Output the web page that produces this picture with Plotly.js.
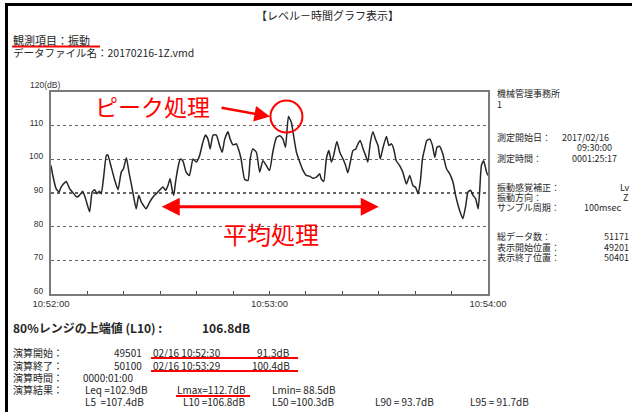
<!DOCTYPE html>
<html><head><meta charset="utf-8">
<script src="https://cdn.plot.ly/plotly-3.0.1.min.js"></script>
<style>
html,body{margin:0;padding:0;background:#fff;}
#wrap{position:relative;width:632px;height:412px;overflow:hidden;background:#fff;}
#chart{position:absolute;left:0;top:0;width:632px;height:412px;}
.bt{position:absolute;left:5px;top:3px;right:0;height:3px;background:#000;}
.bl{position:absolute;left:5px;top:3px;bottom:0;width:3px;background:#000;}
</style></head>
<body><div id="wrap"><div id="chart"></div><div class="bt"></div><div class="bl"></div></div>
<script>
// ---- data ----
const startTime = '2017-02-16T10:52:00Z';
const endSeconds = 120;
const seconds = [0,0.5,1.4,2.2,2.8,3.7,4.2,5.1,6.0,7.1,
7.8,8.7,9.5,10.6,11.3,12.0,12.6,13.3,13.8,14.4,
15.2,15.6,16.3,17.4,18.4,19.3,19.9,20.7,21.4,22.3,
23.4,24.1,24.8,25.4,26.1,27.1,28.0,28.9,29.8,30.7,
31.5,32.1,32.7,33.3,33.7,34.2,34.8,35.5,36.2,37.1,
38.0,39.0,39.9,40.8,41.7,42.4,43.1,43.7,44.5,45.4,
46.3,47.0,47.7,48.6,49.2,50.0,50.9,51.6,52.2,53.2,
54.1,54.7,55.4,56.4,57.3,58.2,59.1,60.0,60.9,61.9,
62.8,63.7,64.4,65.2,66.0,66.4,67.4,68.3,69.2,70.1,
71.0,71.9,72.9,73.8,74.2,74.9,75.6,76.3,77.0,77.6,
78.5,79.3,80.2,80.9,81.5,82.2,82.9,83.7,84.3,84.9,
85.7,86.4,87.0,87.7,88.4,89.1,89.8,90.4,91.2,92.1,
92.8,93.5,94.1,94.8,95.7,96.6,97.6,98.5,99.4,100.1,
100.8,101.4,102.0,102.6,103.2,104.0,104.7,105.4,106.0,106.7,
107.6,108.6,109.5,110.4,111.1,111.8,112.4,113.1,113.9,114.5,
115.2,115.9,116.6,117.3,117.7,118.2,118.8,119.6,120.0];
const levels = [98.2,95.2,91.3,90.3,91.8,93.0,93.4,91.3,90.1,88.8,
89.3,90.5,88.3,84.4,90.3,91.0,89.8,90.5,89.8,94.2,
101.1,101.3,98.7,94.2,91.0,96.2,97.2,100.5,96.2,91.3,
85.3,89.3,87.3,86.3,85.3,87.3,88.8,89.8,90.8,91.8,
90.8,92.2,94.2,90.8,89.3,93.2,97.2,100.1,99.6,96.2,
95.2,100.1,99.2,101.1,105.1,107.2,106.0,103.1,107.2,107.2,
104.1,102.1,106.0,108.2,106.0,104.3,104.6,102.6,100.1,94.0,
93.7,100.1,103.1,102.1,96.2,99.6,98.2,96.7,102.1,106.5,
107.0,106.0,103.6,112.7,111.0,108.5,102.1,99.2,96.7,95.2,
95.0,94.4,94.7,95.7,94.2,93.4,100.1,102.6,99.2,101.1,
105.3,102.1,100.1,98.2,96.0,99.2,102.6,103.1,104.6,105.6,
103.1,101.1,99.2,105.1,108.2,106.0,104.1,100.1,103.6,106.8,
104.1,104.6,103.1,99.6,98.2,96.2,92.7,95.2,92.2,91.7,
89.8,93.2,100.1,103.1,105.6,106.0,104.3,100.6,103.6,103.9,
101.6,97.2,95.7,93.2,89.3,86.3,84.2,82.4,86.3,90.3,
90.8,89.3,88.3,85.3,90.3,98.2,99.6,96.2,95.2];
const yTickValues = [60,70,80,90,100,110,120];
const yTickLabels = ['60','70','80','90','100','110','120(dB)'];
const avgStartSec = 30, avgEndSec = 90, avgArrowLevel = 85.9;

// ---- helpers ----
const base = new Date(startTime).getTime();
const toDate = s => new Date(base + s * 1000).toISOString().replace('T', ' ').replace('Z', '');
const L = 51, R = 488, T = 92, B = 294, W = R - L, H = B - T;
const px = x => (x - L) / W, py = y => (B - y) / H;
const JP = '"Noto Sans CJK JP", "Noto Sans", sans-serif';
const TXT = '#262626', RED = '#ff0000';

function txt(text, x, y, o) {
  o = o || {};
  return {xref: 'paper', yref: 'paper', x: px(x), y: py(y), text: text, showarrow: false,
    xanchor: o.anchor || 'left', yanchor: 'middle', borderpad: 0,
    font: {family: o.family || JP, size: o.size || 10.5, color: o.color || TXT, weight: o.weight || 'normal'}};
}
function uline(x0, x1, y) {
  return {type: 'line', xref: 'paper', yref: 'paper', x0: px(x0), x1: px(x1), y0: py(y), y1: py(y),
    line: {color: RED, width: 2}};
}
const nb = s => s.replace(/ /g, '\u00A0');

// peak
let pk = 0;
levels.forEach((v, i) => { if (v > levels[pk]) pk = i; });

const RP = 9;
const BP = 10;
const annotations = [
  txt('【レベル－時間グラフ表示】', 327, 15, {anchor: 'center', size: 11}),
  txt('観測項目：振動', 12, 40, {size: 11}),
  txt('データファイル名：20170216-1Z.vmd', 12, 52, {size: 10.5}),
  txt(yTickLabels[yTickLabels.length - 1], 29, 85, {family: 'Liberation Sans, Arial', size: 8.5, color: '#333'}),
  // right panel
  txt('機械管理事務所', 496, 93, {size: RP}),
  txt('1', 496, 104, {size: RP}),
  txt('測定開始日：', 496, 137, {size: RP}),
  txt('2017/02/16', 561, 137, {size: RP}),
  txt('09:30:00', 576, 147, {size: RP}),
  txt('測定時間：', 496, 158, {size: RP}),
  txt('0001:25:17', 571, 158, {size: RP}),
  txt('振動感覚補正：', 496, 187, {size: RP}),
  txt('Lv', 619, 187, {size: RP}),
  txt('振動方向：', 496, 197, {size: RP}),
  txt('Z', 622, 197, {size: RP}),
  txt('サンプル周期：', 496, 207, {size: RP}),
  txt('100msec', 583, 207, {size: RP}),
  txt('総データ数：', 496, 236, {size: RP}),
  txt('51171', 603, 236, {size: RP}),
  txt('表示開始位置：', 496, 247, {size: RP}),
  txt('49201', 603, 247, {size: RP}),
  txt('表示終了位置：', 496, 257, {size: RP}),
  txt('50401', 603, 257, {size: RP}),
  // bottom block
  txt(nb('80%レンジの上端値 (L10) :'), 12, 327, {size: 12, weight: 'bold'}),
  txt('106.8dB', 201, 327, {size: 12, weight: 'bold'}),
  txt('演算開始：', 12, 352, {size: BP}),
  txt('49501', 143, 352, {size: BP, anchor: 'right'}),
  txt('02/16 10:52:30', 152, 352, {size: BP}),
  txt('91.3dB', 291, 352, {size: BP, anchor: 'right'}),
  txt('演算終了：', 12, 365, {size: BP}),
  txt('50100', 143, 365, {size: BP, anchor: 'right'}),
  txt('02/16 10:53:29', 152, 365, {size: BP}),
  txt('100.4dB', 291, 365, {size: BP, anchor: 'right'}),
  txt('演算時間：', 12, 377, {size: BP}),
  txt('0000:01:00', 82, 377, {size: BP}),
  txt('演算結果：', 12, 389, {size: BP}),
  txt('Leq =102.9dB', 84, 389, {size: BP}),
  txt('Lmax=112.7dB', 176, 389, {size: BP}),
  txt(nb('Lmin= 88.5dB'), 271, 389, {size: BP}),
  txt(nb('L5  =107.4dB'), 84, 401, {size: BP}),
  txt(nb('L10 =106.8dB'), 182, 401, {size: BP}),
  txt(nb('L50 =100.3dB'), 271, 401, {size: BP}),
  txt(nb('L90 = 93.7dB'), 374, 401, {size: BP}),
  txt(nb('L95 = 91.7dB'), 469, 401, {size: BP}),
  // red callouts
  txt('ピーク処理', 152, 106, {anchor: 'center', size: 23, color: RED}),
  txt('平均処理', 271, 233, {anchor: 'center', size: 24, color: RED}),
  {xref: 'paper', yref: 'paper', x: px(270), y: py(116.5), ax: -50, ay: -9, text: '',
   showarrow: true, arrowhead: 2, arrowsize: 1.3, arrowwidth: 2.4, arrowcolor: RED, standoff: 0},
  {xref: 'x', yref: 'y', x: toDate(avgEndSec), y: avgArrowLevel, axref: 'x', ayref: 'y',
   ax: toDate(avgStartSec), ay: avgArrowLevel, text: '', showarrow: true, arrowside: 'end+start',
   arrowhead: 2, startarrowhead: 2, arrowsize: 1.2, startarrowsize: 1.2, arrowwidth: 3, arrowcolor: RED,
   standoff: 0, startstandoff: 0}
];

const shapes = [
  uline(12, 100, 46.5),
  uline(151, 298, 358),
  uline(151, 298, 371),
  uline(176, 250, 396),
  {type: 'circle', xref: 'x', yref: 'y', xsizemode: 'pixel', ysizemode: 'pixel',
   xanchor: toDate(seconds[pk]), yanchor: levels[pk], x0: -18, x1: 14, y0: -16, y1: 16,
   line: {color: RED, width: 2}}
];

const trace = {x: seconds.map(toDate), y: levels, type: 'scatter', mode: 'lines',
  line: {color: '#262626', width: 1.5, shape: 'spline', smoothing: 0.5}, hoverinfo: 'skip'};

const layout = {
  width: 632, height: 412, margin: {l: L, r: 632 - R, t: T, b: 412 - B, pad: 0},
  paper_bgcolor: '#fff', plot_bgcolor: '#fff', showlegend: false,
  xaxis: {type: 'date', range: [toDate(0), toDate(endSeconds)], tickformat: '%H:%M:%S',
    tick0: toDate(0), dtick: 60000, ticks: 'inside', ticklen: 3, tickcolor: '#444',
    minor: {dtick: 10000, ticks: 'inside', ticklen: 3, tickcolor: '#444', showgrid: false},
    showgrid: false, zeroline: false, showline: true, mirror: true, linecolor: '#7a7a7a', linewidth: 2,
    tickfont: {family: 'Liberation Sans, Arial', size: 9.5, color: '#333'}, fixedrange: true},
  yaxis: {range: [60, 120], tickvals: yTickValues.slice(0, -1), ticktext: yTickLabels.slice(0, -1),
    showgrid: true, gridcolor: '#666', griddash: 'dot', gridwidth: 1.6, ticks: '',
    zeroline: false, showline: true, mirror: true, linecolor: '#7a7a7a', linewidth: 2,
    ticklabelshift: -3, ticklabelstandoff: 4,
    tickfont: {family: 'Liberation Sans, Arial', size: 8.5, color: '#333'}, fixedrange: true},
  annotations: annotations, shapes: shapes
};

Plotly.newPlot('chart', [trace], layout, {displayModeBar: false, staticPlot: true});
</script></body></html>
